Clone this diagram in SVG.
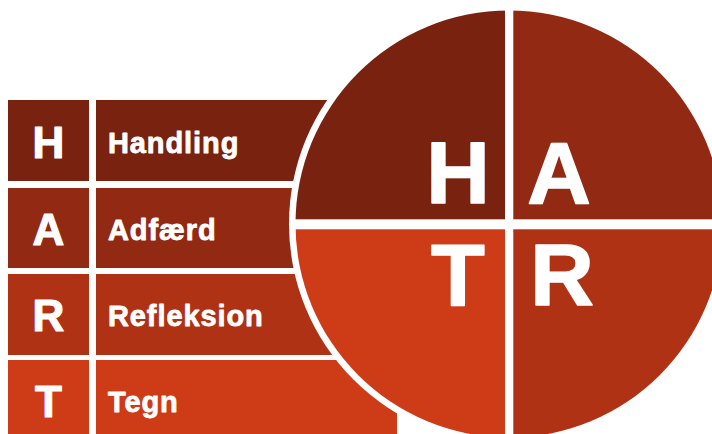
<svg xmlns="http://www.w3.org/2000/svg" width="712" height="434" viewBox="0 0 712 434">
  <style>
    .c1 { fill: #7A2210; }
    .c2 { fill: #922912; }
    .c3 { fill: #B03214; }
    .c4 { fill: #CE3B17; }
    .txt { font-family: "Liberation Sans", Arial, sans-serif; font-weight: bold; fill: #FFFFFF; stroke: #FFFFFF; stroke-linejoin: round; }
    .letter { font-size: 44px; text-anchor: middle; stroke-width: 1.2; }
    .label { font-size: 29px; letter-spacing: 0.9px; stroke-width: 0.8; }
    .big { font-size: 88px; text-anchor: middle; stroke-width: 1.6; }
  </style>
  <rect width="712" height="434" fill="#FFFFFF"/>
  <g id="row-h">
    <rect class="c1" x="8" y="100" width="81" height="81"/>
    <rect class="c1" x="96" y="100" width="301" height="81"/>
    <text class="txt letter" x="48.5" y="158">H</text>
    <text class="txt label" x="108" y="153">Handling</text>
  </g>
  <g id="row-a">
    <rect class="c2" x="8" y="188" width="81" height="80"/>
    <rect class="c2" x="96" y="188" width="301" height="80"/>
    <text class="txt letter" x="48.5" y="245">A</text>
    <text class="txt label" x="108" y="240">Adfærd</text>
  </g>
  <g id="row-r">
    <rect class="c3" x="8" y="274" width="81" height="81"/>
    <rect class="c3" x="96" y="274" width="301" height="81"/>
    <text class="txt letter" x="48.5" y="331">R</text>
    <text class="txt label" x="108" y="326">Refleksion</text>
  </g>
  <g id="row-t">
    <rect class="c4" x="8" y="360" width="81" height="80"/>
    <rect class="c4" x="96" y="360" width="301" height="80"/>
    <text class="txt letter" x="48.5" y="417">T</text>
    <text class="txt label" x="108" y="412">Tegn</text>
  </g>
  <g id="circle">
    <circle cx="509" cy="224" r="220" fill="#FFFFFF"/>
    <path class="c1" d="M509,224 L509,10.5 A213.5,213.5 0 0 0 295.5,224 Z"/>
    <path class="c2" d="M509,224 L722.5,224 A213.5,213.5 0 0 0 509,10.5 Z"/>
    <path class="c3" d="M509,224 L509,437.5 A213.5,213.5 0 0 0 722.5,224 Z"/>
    <path class="c4" d="M509,224 L295.5,224 A213.5,213.5 0 0 0 509,437.5 Z"/>
    <rect x="505" y="0" width="8.3" height="440" fill="#FFFFFF"/>
    <rect x="290" y="219.3" width="430" height="10" fill="#FFFFFF"/>
  </g>
  <g id="quad-h"><text class="txt big" x="458" y="203">H</text></g>
  <g id="quad-a"><text class="txt big" x="559" y="203">A</text></g>
  <g id="quad-t"><text class="txt big" x="458" y="305">T</text></g>
  <g id="quad-r"><text class="txt big" x="562" y="305">R</text></g>
</svg>
